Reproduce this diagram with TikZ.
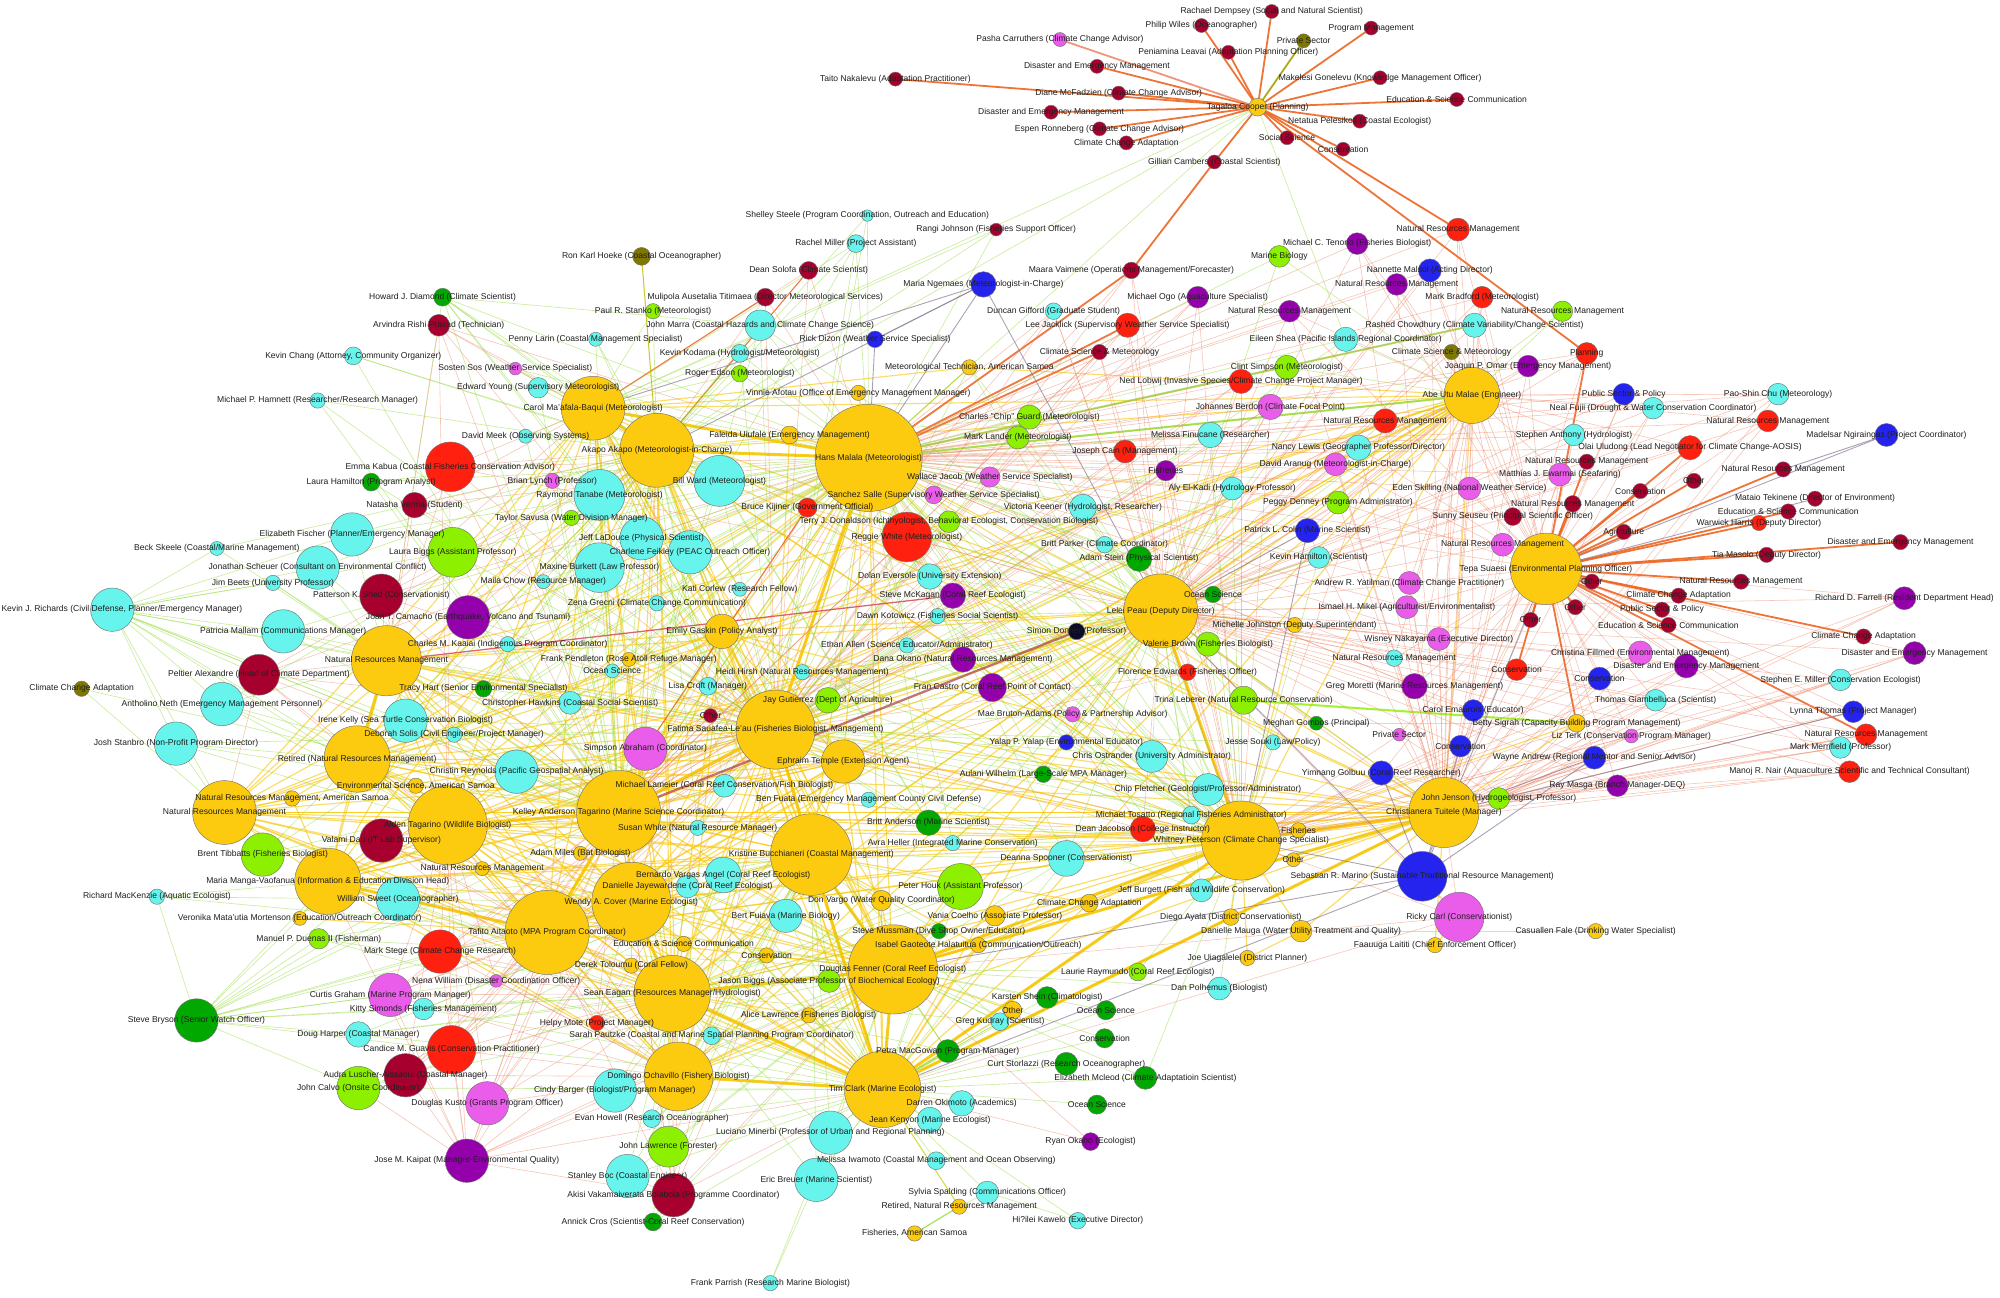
\documentclass[tikz,border=0pt]{standalone}
\usepackage{fontspec}
\setmainfont{Liberation Sans}
\pgfdeclarelayer{bg}\pgfdeclarelayer{edges}
\pgfsetlayers{bg,edges,main}
\definecolor{cY}{HTML}{FCCB10}
\definecolor{cC}{HTML}{66F4EC}
\definecolor{cK}{HTML}{A8002E}
\definecolor{cR}{HTML}{FF2010}
\definecolor{cL}{HTML}{8CF000}
\definecolor{cG}{HTML}{00A800}
\definecolor{cP}{HTML}{9400AC}
\definecolor{cM}{HTML}{EA5CEA}
\definecolor{cB}{HTML}{2424EE}
\definecolor{cO}{HTML}{7E7800}
\definecolor{cN}{HTML}{0C0C28}
\definecolor{eY}{HTML}{F7C600}
\definecolor{eG}{HTML}{96DC3C}
\definecolor{eS}{HTML}{EE8A6C}
\definecolor{eO}{HTML}{EE6420}
\definecolor{eP}{HTML}{8A7A94}
\definecolor{eD}{HTML}{B04848}
\definecolor{eR}{HTML}{D04050}
\tikzset{
 nd/.style={circle, draw=black!55, line width=0.35pt, inner sep=0pt, outer sep=0pt},
 lb/.style={inner sep=0pt, font=\fontsize{6.7}{7}\selectfont, text=black!88},
 ye/.style={draw=eY, line width=0.9pt, opacity=0.6},
 yt/.style={draw=eY, line width=2.4pt, opacity=0.85},
 gE/.style={draw=eG, line width=0.5pt, opacity=0.5},
 gt/.style={draw=eG, line width=1.6pt, opacity=0.8},
 sE/.style={draw=eS, line width=0.45pt, opacity=0.5},
 oE/.style={draw=eO, line width=1.4pt, opacity=0.9},
 pE/.style={draw=eP, line width=0.7pt, opacity=0.7},
}
\newtoks\labtoks
\newcommand\gnode[6]{\node[nd,fill=#5,minimum size=#4pt] (#1) at (#2,#3) {};%
\global\labtoks\expandafter{\the\labtoks\node[lb] (#1-l) at (#2,#3) {#6};}}
\newcommand\gfan[3]{\foreach \u in {#3} {\draw[#1] (#2) -- (\u);}}
\begin{document}
\begin{tikzpicture}[x=1pt,y=-1pt]
\begin{pgfonlayer}{bg}
\path[fill=white] (0,0) rectangle (1568,1017);
\end{pgfonlayer}
\useasboundingbox (0,0) rectangle (1568,1017);
% ---- top star
\gnode{tag}{986}{84}{14}{cY}{Tagaloa Cooper (Planning)}
\gnode{rdem}{997}{9}{11}{cK}{Rachael Dempsey (Social and Natural Scientist)}
\gnode{pwil}{942}{20}{11}{cK}{Philip Wiles (Oceanographer)}
\gnode{pcar}{831}{31}{11}{cM}{Pasha Carruthers (Climate Change Advisor)}
\gnode{prgm}{1075}{22}{11}{cK}{Program Management}
\gnode{psec}{1022}{32}{11}{cO}{Private Sector}
\gnode{plea}{963}{41}{11}{cK}{Peniamina Leavai (Adaptation Planning Officer)}
\gnode{dem1}{860}{52}{11}{cK}{Disaster and Emergency Management}
\gnode{mgon}{1082}{61}{11}{cK}{Makelesi Gonelevu (Knowledge Management Officer)}
\gnode{tnak}{702}{62}{11}{cK}{Taito Nakalevu (Adaptation Practitioner)}
\gnode{dmcf}{877}{73}{11}{cK}{Diane McFadzien (Climate Change Advisor)}
\gnode{esc1}{1142}{78}{11}{cK}{Education \& Science Communication}
\gnode{dem2}{824}{88}{11}{cK}{Disaster and Emergency Management}
\gnode{npel}{1066}{95}{11}{cK}{Netatua Pelesikoti (Coastal Ecologist)}
\gnode{eron}{862}{101}{11}{cK}{Espen Ronneberg (Climate Change Advisor)}
\gnode{socs}{1009}{108}{11}{cK}{Social Science}
\gnode{cca1}{883}{112}{11}{cK}{Climate Change Adaptation}
\gnode{cons1}{1053}{117}{11}{cK}{Conservation}
\gnode{gcam}{952}{127}{11}{cK}{Gillian Cambers (Coastal Scientist)}
% ---- upper left
\gnode{sste}{680}{169}{9}{cC}{Shelley Steele (Program Coordination, Outreach and Education)}
\gnode{rjoh}{781}{180}{10}{cK}{Rangi Johnson (Fisheries Support Officer)}
\gnode{rmil}{671}{191}{14}{cC}{Rachel Miller (Project Assistant)}
\gnode{rkh}{503}{201}{14}{cO}{Ron Karl Hoeke (Coastal Oceanographer)}
\gnode{dsol}{634}{212}{14}{cK}{Dean Solofa (Climate Scientist)}
\gnode{mngm}{771}{223}{20}{cB}{Maria Ngemaes (Meteorologist-in-Charge)}
\gnode{mtit}{600}{233}{14}{cK}{Mulipola Ausetalia Titimaea (Director Meteorological Services)}
\gnode{psta}{512}{244}{12}{cL}{Paul R. Stanko (Meteorologist)}
\gnode{jmar}{596}{255}{24}{cC}{John Marra (Coastal Hazards and Climate Change Science)}
\gnode{plar}{467}{266}{11}{cC}{Penny Larin (Coastal Management Specialist)}
\gnode{rdiz}{686}{266}{13}{cB}{Rick Dizon (Weather Service Specialist)}
\gnode{kkod}{580}{277}{14}{cC}{Kevin Kodama (Hydrologist/Meteorologist)}
\gnode{ssos}{404}{289}{10}{cM}{Sosten Sos (Weather Service Specialist)}
\gnode{redS}{580}{293}{13}{cL}{Roger Edson (Meteorologist)}
\gnode{mtec}{760}{288}{12}{cY}{Meteorological Technician, American Samoa}
\gnode{eyou}{422}{304}{16}{cC}{Edward Young (Supervisory Meteorologist)}
\gnode{vafo}{673}{308}{12}{cY}{Vinnie Afotau (Office of Emergency Management Manager)}
\gnode{carol}{465}{320}{50}{cY}{Carol Ma'afala-Baqui (Meteorologist)}
\gnode{howd}{347}{233}{14}{cG}{Howard J. Diamond (Climate Scientist)}
\gnode{arvp}{344}{255}{17}{cK}{Arvindra Rishi Prasad (Technician)}
\gnode{kcha}{277}{279}{14}{cC}{Kevin Chang (Attorney, Community Organizer)}
\gnode{mham}{249}{314}{12}{cC}{Michael P. Hamnett (Researcher/Research Manager)}
% ---- centre
\gnode{dmee}{412}{342}{11}{cC}{David Meek (Observing Systems)}
\gnode{akapo}{515}{353}{58}{cY}{Akapo Akapo (Meteorologist-in-Charge)}
\gnode{fuiu}{619}{341}{14}{cY}{Faleida Uiufale (Emergency Management)}
\gnode{hans}{681}{359}{84}{cY}{Hans Malala (Meteorologist)}
\gnode{ssal}{732}{388}{14}{cM}{Sanchez Salle (Supervisory Weather Service Specialist)}
\gnode{wjac}{776}{374}{16}{cM}{Wallace Jacob (Weather Service Specialist)}
\gnode{bwar}{564}{377}{40}{cC}{Bill Ward (Meteorologist)}
\gnode{blyn}{433}{377}{12}{cM}{Brian Lynch (Professor)}
\gnode{rtan}{470}{388}{40}{cC}{Raymond Tanabe (Meteorologist)}
\gnode{tsav}{448}{406}{12}{cL}{Taylor Savusa (Water Division Manager)}
\gnode{jlad}{503}{422}{34}{cC}{Jeff LaDouce (Physical Scientist)}
\gnode{cfei}{541}{433}{34}{cC}{Charlene Feikley (PEAC Outreach Officer)}
\gnode{mbur}{470}{445}{39}{cC}{Maxine Burkett (Law Professor)}
\gnode{mcho}{426}{456}{11}{cC}{Maila Chow (Resource Manager)}
\gnode{kcor}{580}{462}{11}{cC}{Kati Corlew (Research Fellow)}
\gnode{zgre}{515}{473}{12}{cC}{Zena Grecni (Climate Change Communication)}
\gnode{bkij}{633}{398}{15}{cR}{Bruce Kijiner (Government Official)}
\gnode{tdon}{744}{409}{17}{cL}{Terry J. Donaldson (Ichthyologist, Behavioral Ecologist, Conservation Biologist)}
\gnode{rwhi}{711}{421}{39}{cR}{Reggie White (Meteorologist)}
\gnode{deve}{729}{452}{20}{cC}{Dolan Eversole (University Extension)}
\gnode{smck}{747}{467}{20}{cP}{Steve McKagan (Coral Reef Ecologist)}
\gnode{dkot}{735}{483}{12}{cC}{Dawn Kotowicz (Fisheries Social Scientist)}
\gnode{egas}{566}{495}{27}{cY}{Emily Gaskin (Policy Analyst)}
\gnode{eall}{711}{506}{12}{cC}{Ethan Allen (Science Educator/Administrator)}
\gnode{fpen}{493}{517}{11}{cY}{Frank Pendleton (Rose Atoll Refuge Manager)}
\gnode{doka}{755}{517}{20}{cP}{Dana Okano (Natural Resources Management)}
\gnode{osc1}{480}{526}{11}{cC}{Ocean Science}
\gnode{hhir}{629}{527}{12}{cC}{Heidi Hirsh (Natural Resources Management)}
\gnode{lcro}{555}{538}{14}{cC}{Lisa Croft (Manager)}
\gnode{fcas}{778}{539}{22}{cP}{Fran Castro (Coral Reef Point of Contact)}
\gnode{chaw}{447}{551}{18}{cC}{Christopher Hawkins (Coastal Social Scientist)}
\gnode{jgut}{649}{549}{20}{cL}{Jay Gutierrez (Dept of Agriculture)}
\gnode{oth1}{557}{561}{11}{cK}{Other}
\gnode{fati}{608}{572}{62}{cY}{Fatima Sauafea-Le'au (Fisheries Biologist, Management)}
\gnode{mbru}{841}{560}{12}{cM}{Mae Bruton-Adams (Policy \& Partnership Advisor)}
\gnode{sabr}{506}{587}{34}{cM}{Simpson Abraham (Coordinator)}
\gnode{etem}{661}{597}{34}{cY}{Ephraim Temple (Extension Agent)}
\gnode{crey}{405}{605}{34}{cC}{Christin Reynolds (Pacific Geospatial Analyst)}
\gnode{mlam}{568}{616}{18}{cC}{Michael Lameier (Coral Reef Conservation/Fish Biologist)}
\gnode{bfua}{681}{627}{12}{cC}{Ben Fuata (Emergency Management County Civil Defense)}
\gnode{kell}{485}{637}{66}{cY}{Kelley Anderson Tagarino (Marine Science Coordinator)}
\gnode{swhi}{547}{649}{12}{cC}{Susan White (Natural Resource Manager)}
\gnode{band}{728}{645}{20}{cG}{Britt Anderson (Marine Scientist)}
\gnode{ahel}{747}{661}{12}{cC}{Avra Heller (Integrated Marine Conservation)}
\gnode{amil}{455}{669}{11}{cY}{Adam Miles (Bat Biologist)}
\gnode{kbuc}{636}{670}{64}{cY}{Kristine Bucchianeri (Coastal Management)}
% ---- left
\gnode{ekab}{353}{366}{39}{cR}{Emma Kabua (Coastal Fisheries Conservation Advisor)}
\gnode{lham}{291}{378}{14}{cG}{Laura Hamilton (Program Analyst)}
\gnode{nver}{325}{396}{20}{cK}{Natasha Verma (Student)}
\gnode{efis}{276}{419}{34}{cC}{Elizabeth Fischer (Planner/Emergency Manager)}
\gnode{lbig}{355}{433}{39}{cL}{Laura Biggs (Assistant Professor)}
\gnode{bske}{170}{430}{11}{cC}{Beck Skeele (Coastal/Marine Management)}
\gnode{jsch}{249}{445}{34}{cC}{Jonathan Scheuer (Consultant on Environmental Conflict)}
\gnode{jbee}{214}{457}{12}{cC}{Jim Beets (University Professor)}
\gnode{pshe}{299}{467}{34}{cK}{Patterson K. Shed (Conservationist)}
\node[nd,fill=cC,minimum size=34pt] (kjr) at (88,478) {};
\global\labtoks\expandafter{\the\labtoks\node[lb,anchor=west] (kjr-l) at (1,478) {Kevin J. Richards (Civil Defense, Planner/Emergency Manager)};}
\gnode{jcam}{367}{484}{34}{cP}{Joan T. Camacho (Earthquake, Volcano and Tsunami)}
\gnode{pmal}{222}{495}{34}{cC}{Patricia Mallam (Communications Manager)}
\gnode{nrmL}{303}{518}{55}{cY}{Natural Resources Management}
\gnode{ckaa}{398}{505}{12}{cC}{Charles M. Kaaiai (Indigenous Program Coordinator)}
\gnode{palx}{203}{529}{32}{cK}{Peltier Alexandre (Head of Climate Department)}
\gnode{cca2}{64}{540}{12}{cO}{Climate Change Adaptation}
\gnode{thar}{379}{540}{13}{cG}{Tracy Hart (Senior Environmental Specialist)}
\gnode{aneth}{174}{552}{34}{cC}{Antholino Neth (Emergency Management Personnel)}
\gnode{ikel}{318}{565}{34}{cC}{Irene Kelly (Sea Turtle Conservation Biologist)}
\gnode{dsoli}{356}{576}{12}{cC}{Deborah Solis (Civil Engineer/Project Manager)}
\gnode{jsta}{138}{583}{34}{cC}{Josh Stanbro (Non-Profit Program Director)}
\gnode{reti}{280}{595}{52}{cY}{Retired (Natural Resources Management)}
\gnode{esas}{326}{616}{12}{cY}{Environmental Science, American Samoa}
\gnode{nrmas}{229}{626}{12}{cY}{Natural Resources Management, American Samoa}
\gnode{nrmLL}{176}{637}{50}{cY}{Natural Resources Management}
\gnode{alden}{351}{647}{62}{cY}{Alden Tagarino (Wildlife Biologist)}
\gnode{vdau}{299}{659}{34}{cK}{Valami Dau (IT Lab Supervisor)}
\gnode{btib}{206}{670}{34}{cL}{Brent Tibbatts (Fisheries Biologist)}
\gnode{mman}{257}{691}{52}{cY}{Maria Manga-Vaofanua (Information \& Education Division Head)}
\gnode{nrm5}{378}{681}{11}{cY}{Natural Resources Management}
% ---- lower left
\gnode{rmac}{123}{703}{12}{cC}{Richard MacKenzie (Aquatic Ecologist)}
\gnode{wswe}{312}{705}{34}{cC}{William Sweet (Oceanographer)}
\gnode{vmor}{235}{720}{11}{cY}{Veronika Mata'utia Mortenson (Education/Outreach Coordinator)}
\gnode{mdue}{250}{736}{16}{cL}{Manuel P. Duenas II (Fisherman)}
\gnode{mste}{345}{746}{34}{cR}{Mark Stege (Climate Change Research)}
\gnode{nwil}{389}{769}{10}{cM}{Nena William (Disaster Coordination Officer)}
\gnode{cgra}{306}{780}{34}{cM}{Curtis Graham (Marine Program Manager)}
\gnode{ksim}{332}{791}{17}{cC}{Kitty Simonds (Fisheries Management)}
\gnode{sbry}{154}{800}{34}{cG}{Steve Bryson (Senior Watch Officer)}
\gnode{dhar}{281}{811}{20}{cC}{Doug Harper (Coastal Manager)}
\gnode{cgua}{354}{823}{38}{cR}{Candice M. Guavis (Conservation Practitioner)}
\gnode{alus}{318}{843}{34}{cK}{Audra Luscher-Aissaoui (Coastal Manager)}
\gnode{jcal}{281}{853}{34}{cL}{John Calvo (Onsite Coordinator)}
\gnode{dkus}{382}{865}{34}{cM}{Douglas Kusto (Grants Program Officer)}
\gnode{jkai}{366}{910}{34}{cP}{Jose M. Kaipat (Manager-Environmental Quality)}
% ---- lower centre
\gnode{bvar}{567}{686}{28}{cC}{Bernardo Vargas Angel (Coral Reef Ecologist)}
\gnode{djay}{539}{695}{18}{cC}{Danielle Jayewardene (Coral Reef Ecologist)}
\gnode{wcov}{495}{707}{62}{cY}{Wendy A. Cover (Marine Ecologist)}
\gnode{tait}{429}{731}{66}{cY}{Tafito Aitaoto (MPA Program Coordinator)}
\gnode{phou}{753}{695}{36}{cL}{Peter Houk (Assistant Professor)}
\gnode{dvar}{691}{706}{16}{cY}{Don Vargo (Water Quality Coordinator)}
\gnode{bfui}{616}{718}{26}{cC}{Bert Fuiava (Marine Biology)}
\gnode{vcoe}{780}{718}{16}{cY}{Vania Coelho (Associate Professor)}
\gnode{smus}{736}{730}{12}{cG}{Steve Mussman (Dive Shop Owner/Educator)}
\gnode{esc2}{536}{740}{12}{cY}{Education \& Science Communication}
\gnode{igao}{767}{741}{12}{cY}{Isabel Gaoteote Halatuitua (Communication/Outreach)}
\gnode{cons2}{601}{749}{12}{cY}{Conservation}
\gnode{dfen}{700}{760}{70}{cY}{Douglas Fenner (Coral Reef Ecologist)}
\gnode{dtol}{495}{757}{12}{cY}{Derek Toloumu (Coral Fellow)}
\gnode{seag}{527}{779}{60}{cY}{Sean Eagan (Resources Manager/Hydrologist)}
\gnode{jbig}{650}{769}{18}{cL}{Jason Biggs (Associate Professor of Biochemical Ecology)}
\gnode{hmot}{468}{802}{12}{cR}{Helpy Mote (Project Manager)}
\gnode{alaw}{634}{796}{12}{cY}{Alice Lawrence (Fisheries Biologist)}
\gnode{gkud}{784}{801}{14}{cC}{Greg Kudray (Scientist)}
\gnode{spau}{558}{812}{14}{cC}{Sarah Pautzke (Coastal and Marine Spatial Planning Program Coordinator)}
\gnode{pmac}{743}{824}{18}{cG}{Petra MacGowan (Program Manager)}
\gnode{doch}{532}{844}{54}{cY}{Domingo Ochavillo (Fishery Biologist)}
\gnode{cbar}{482}{855}{34}{cC}{Cindy Barger (Biologist/Program Manager)}
\gnode{timc}{692}{854}{60}{cY}{Tim Clark (Marine Ecologist)}
\gnode{csto}{836}{834}{18}{cG}{Curt Storlazzi (Research Oceanographer)}
\gnode{doki}{754}{865}{20}{cC}{Darren Okimoto (Academics)}
\gnode{emcl}{898}{845}{18}{cG}{Elizabeth Mcleod (Climate Adaptatioin Scientist)}
\gnode{ehow}{511}{877}{14}{cC}{Evan Howell (Research Oceanographer)}
\gnode{jken}{729}{878}{20}{cC}{Jean Kenyon (Marine Ecologist)}
\gnode{lmin}{651}{888}{34}{cC}{Luciano Minerbi (Professor of Urban and Regional Planning)}
\gnode{jlaw}{524}{899}{32}{cL}{John Lawrence (Forester)}
\gnode{miwa}{734}{910}{14}{cC}{Melissa Iwamoto (Coastal Management and Ocean Observing)}
\gnode{roka}{855}{895}{14}{cP}{Ryan Okano (Ecologist)}
\gnode{sboc}{492}{922}{34}{cC}{Stanley Boc (Coastal Engineer)}
\gnode{ebre}{640}{925}{34}{cC}{Eric Breuer (Marine Scientist)}
\gnode{akis}{528}{937}{34}{cK}{Akisi Vakamaiverata Bolabola (Programme Coordinator)}
\gnode{sspa}{774}{935}{18}{cC}{Sylvia Spalding (Communications Officer)}
\gnode{rnrm}{752}{946}{12}{cY}{Retired, Natural Resources Management}
\gnode{acro}{512}{958}{14}{cG}{Annick Cros (Scientist-Coral Reef Conservation)}
\gnode{fias}{717}{967}{12}{cY}{Fisheries, American Samoa}
\gnode{fpar}{604}{1006}{12}{cC}{Frank Parrish (Research Marine Biologist)}
\gnode{hkaw}{845}{957}{13}{cC}{Hi?ilei Kawelo (Executive Director)}
% ---- lower right
\gnode{smar}{1115}{687}{39}{cB}{Sebastian R. Marino (Sustainable Traditional Resource Management)}
\gnode{jbur}{942}{698}{18}{cC}{Jeff Burgett (Fish and Wildlife Conservation)}
\gnode{cca3}{854}{708}{14}{cY}{Climate Change Adaptation}
\gnode{rcar}{1144}{719}{39}{cM}{Ricky Carl (Conservationist)}
\gnode{daya}{965}{719}{13}{cY}{Diego Ayala (District Conservationist)}
\gnode{dmau}{1020}{730}{17}{cY}{Danielle Mauga (Water Utility Treatment and Quality)}
\gnode{cfal}{1251}{730}{12}{cY}{Casuallen Fale (Drinking Water Specialist)}
\gnode{flai}{1125}{741}{12}{cY}{Faauuga Laititi (Chief Enforcement Officer)}
\gnode{juia}{978}{751}{12}{cY}{Joe Uiagalelei (District Planner)}
\gnode{lray}{892}{762}{14}{cL}{Laurie Raymundo (Coral Reef Ecologist)}
\gnode{dpol}{956}{775}{18}{cC}{Dan Polhemus (Biologist)}
\gnode{kshe}{821}{782}{17}{cG}{Karsten Shein (Climatologist)}
\gnode{osc2}{867}{792}{15}{cG}{Ocean Science}
\gnode{oth2}{794}{792}{14}{cY}{Other}
\gnode{cons3}{866}{814}{15}{cG}{Conservation}
\gnode{osc3}{860}{866}{15}{cG}{Ocean Science}
% ---- right centre
\gnode{mfin}{949}{341}{20}{cC}{Melissa Finucane (Researcher)}
\gnode{mlan}{798}{343}{18}{cL}{Mark Lander (Meteorologist)}
\gnode{jcai}{882}{354}{18}{cR}{Joseph Cain (Management)}
\gnode{nlew}{1065}{351}{20}{cC}{Nancy Lewis (Geographer Professor/Director)}
\gnode{dara}{1047}{364}{18}{cM}{David Aranug (Meteorologist-in-Charge)}
\gnode{fish1}{914}{369}{16}{cP}{Fisheries}
\gnode{aelk}{966}{383}{18}{cC}{Aly El-Kadi (Hydrology Professor)}
\gnode{eski}{1152}{383}{18}{cM}{Eden Skilling (National Weather Service)}
\gnode{pden}{1049}{394}{18}{cL}{Peggy Denney (Program Administrator)}
\gnode{vkee}{849}{398}{21}{cC}{Victoria Keener (Hydrologist, Researcher)}
\gnode{sseu}{1186}{405}{14}{cK}{Sunny Seuseu (Principal Scientific Officer)}
\gnode{pcol}{1025}{416}{19}{cB}{Patrick L. Colin (Marine Scientist)}
\gnode{nrmp}{1178}{427}{18}{cM}{Natural Resources Management}
\gnode{bpar}{866}{427}{13}{cC}{Britt Parker (Climate Coordinator)}
\gnode{aste}{893}{438}{20}{cG}{Adam Stein (Physical Scientist)}
\gnode{kham}{1034}{437}{17}{cC}{Kevin Hamilton (Scientist)}
\gnode{tepa}{1212}{446}{56}{cY}{Tepa Suaesi (Environmental Planning Officer)}
\gnode{ayat}{1105}{457}{18}{cM}{Andrew R. Yatilman (Climate Change Practitioner)}
\gnode{lele}{910}{479}{58}{cY}{Lelei Peau (Deputy Director)}
\gnode{osc4}{951}{466}{13}{cG}{Ocean Science}
\gnode{imik}{1103}{476}{18}{cM}{Ismael H. Mikel (Agriculturist/Environmentalist)}
\gnode{sdon}{844}{495}{13}{cN}{Simon Donner (Professor)}
\gnode{mjoh}{1015}{490}{12}{cY}{Michelle Johnston (Deputy Superintendant)}
\gnode{vbro}{947}{505}{19}{cL}{Valerie Brown (Fisheries Biologist)}
\gnode{wnak}{1128}{501}{18}{cM}{Wisney Nakayama (Executive Director)}
\gnode{nrmc}{1093}{516}{13}{cC}{Natural Resources Management}
\gnode{fedw}{931}{527}{13}{cR}{Florence Edwards (Fisheries Officer)}
\gnode{gmor}{1109}{538}{20}{cP}{Greg Moretti (Marine Resources Management)}
\gnode{tleb}{975}{549}{22}{cL}{Trina Leberer (Natural Resource Conservation)}
\gnode{cema}{1155}{557}{17}{cB}{Carol Emaurois (Educator)}
\gnode{mgom}{1032}{567}{11}{cG}{Meghan Gombos (Principal)}
\gnode{bsig}{1236}{567}{14}{cY}{Betty Sigrah (Capacity Building Program Management)}
\gnode{psec2}{1097}{576}{10}{cM}{Private Sector}
\gnode{yyal}{836}{582}{12}{cB}{Yalap P. Yalap (Environmental Educator)}
\gnode{jsou}{998}{582}{12}{cC}{Jesse Souki (Law/Policy)}
\gnode{cons4}{1145}{585}{17}{cB}{Conservation}
\gnode{cost}{903}{593}{25}{cC}{Chris Ostrander (University Administrator)}
\gnode{awil}{818}{607}{13}{cG}{Aulani Wilhelm (Large-Scale MPA Manager)}
\gnode{ygol}{1083}{606}{19}{cB}{Yimnang Golbuu (Coral Reef Researcher)}
\gnode{cfle}{947}{619}{25}{cC}{Chip Fletcher (Geologist/Professor/Administrator)}
\gnode{chri}{1132}{637}{55}{cY}{Christianera Tuitele (Manager)}
\gnode{jjen}{1175}{626}{17}{cL}{John Jenson (Hydrogeologist, Professor)}
\gnode{mtos}{934}{639}{14}{cC}{Michael Tosatto (Regional Fisheries Administrator)}
\gnode{djac}{896}{650}{20}{cR}{Dean Jacobson (College Instructor)}
\gnode{fish2}{1018}{651}{12}{cY}{Fisheries}
\gnode{whit}{973}{659}{62}{cY}{Whitney Peterson (Climate Change Specialist)}
\gnode{dspo}{836}{673}{28}{cC}{Deanna Spooner (Conservationist)}
\gnode{oth3}{1014}{674}{11}{cY}{Other}
% ---- far right
\gnode{sant}{1234}{341}{17}{cC}{Stephen Anthony (Hydrologist)}
\gnode{mngi}{1479}{341}{18}{cB}{Madelsar Ngiraingas (Project Coordinator)}
\gnode{oulu}{1325}{351}{19}{cR}{Olai Uludong (Lead Negotiator for Climate Change-AOSIS)}
\gnode{nrmk1}{1244}{362}{12}{cK}{Natural Resources Management}
\gnode{nrmk2}{1398}{368}{12}{cK}{Natural Resources Management}
\gnode{mewa}{1223}{372}{18}{cM}{Matthias J. Ewarmai (Seafaring)}
\gnode{oth4}{1328}{377}{12}{cK}{Other}
\gnode{cons5}{1286}{385}{12}{cK}{Conservation}
\gnode{mtek}{1423}{391}{12}{cK}{Mataio Tekinene (Director of Environment)}
\gnode{nrmk3}{1233}{395}{13}{cK}{Natural Resources Management}
\gnode{esc3}{1402}{401}{12}{cK}{Education \& Science Communication}
\gnode{wharr}{1379}{410}{12}{cR}{Warwick Harris (Deputy Director)}
\gnode{agri}{1273}{417}{12}{cK}{Agriculture}
\gnode{dem3}{1490}{425}{12}{cK}{Disaster and Emergency Management}
\gnode{tmas}{1385}{435}{12}{cK}{Tia Masolo (Deputy Director)}
\gnode{oth5}{1248}{456}{12}{cK}{Other}
\gnode{nrmk4}{1365}{456}{12}{cK}{Natural Resources Management}
\gnode{rfar}{1493}{469}{18}{cP}{Richard D. Farrell (Resident Department Head)}
\gnode{cca4}{1316}{467}{12}{cK}{Climate Change Adaptation}
\gnode{oth6}{1235}{476}{12}{cK}{Other}
\gnode{pspk}{1303}{478}{12}{cK}{Public Sector \& Policy}
\gnode{oth7}{1200}{486}{12}{cK}{Other}
\gnode{esc4}{1308}{490}{12}{cK}{Education \& Science Communication}
\gnode{cca5}{1461}{499}{12}{cK}{Climate Change Adaptation}
\gnode{dem4}{1501}{512}{18}{cP}{Disaster and Emergency Management}
\gnode{cfil}{1286}{512}{19}{cM}{Christina Fillmed (Environmental Management)}
\gnode{dem5}{1322}{522}{19}{cP}{Disaster and Emergency Management}
\gnode{cons6}{1189}{525}{17}{cR}{Conservation}
\gnode{cons7}{1254}{532}{18}{cB}{Conservation}
\gnode{smil}{1443}{533}{17}{cC}{Stephen E. Miller (Conservation Ecologist)}
\gnode{tgia}{1298}{549}{17}{cC}{Thomas Giambelluca (Scientist)}
\gnode{ltho}{1453}{558}{17}{cB}{Lynna Thomas (Project Manager)}
\gnode{lter}{1279}{577}{11}{cM}{Liz Terk (Conservation Program Manager)}
\gnode{nrmr}{1463}{576}{17}{cR}{Natural Resources Management}
\gnode{mmer}{1443}{586}{17}{cC}{Mark Merrifield (Professor)}
\gnode{wand}{1250}{594}{18}{cB}{Wayne Andrew (Regional Mentor and Senior Advisor)}
\gnode{mnai}{1450}{605}{17}{cR}{Manoj R. Nair (Aquaculture Scientific and Technical Consultant)}
\gnode{rmas}{1268}{616}{17}{cP}{Ray Masga (Branch Manager-DEQ)}
% ---- upper right
\gnode{nrml}{1225}{244}{16}{cL}{Natural Resources Management}
\gnode{plan}{1244}{277}{17}{cR}{Planning}
\gnode{jomr}{1198}{287}{17}{cP}{Joaquin P. Omar (Emergency Management)}
\gnode{pspb}{1273}{309}{17}{cB}{Public Sector \& Policy}
\gnode{pchu}{1394}{309}{17}{cC}{Pao-Shin Chu (Meteorology)}
\gnode{nfuj}{1296}{320}{17}{cC}{Neal Fujii (Drought \& Water Conservation Coordinator)}
\gnode{nrmr2}{1386}{330}{17}{cR}{Natural Resources Management}
\gnode{nrmr3}{1143}{180}{18}{cR}{Natural Resources Management}
\gnode{mten}{1064}{191}{17}{cP}{Michael C. Tenorio (Fisheries Biologist)}
\gnode{mbio}{1003}{201}{17}{cL}{Marine Biology}
\gnode{nmal}{1121}{212}{18}{cB}{Nannette Malsol (Acting Director)}
\gnode{mvai}{887}{212}{13}{cK}{Maara Vaimene (Operations Management/Forecaster)}
\gnode{nrmp2}{1095}{223}{17}{cP}{Natural Resources Management}
\gnode{mbra}{1162}{233}{17}{cR}{Mark Bradford (Meteorologist)}
\gnode{mogo}{939}{233}{17}{cP}{Michael Ogo (Aquaculture Specialist)}
\gnode{dgif}{826}{244}{13}{cC}{Duncan Gifford (Graduate Student)}
\gnode{nrmp3}{1011}{244}{17}{cP}{Natural Resources Management}
\gnode{ljac}{884}{255}{19}{cR}{Lee Jacklick (Supervisory Weather Service Specialist)}
\gnode{rcho}{1156}{255}{19}{cC}{Rashed Chowdhury (Climate Variability/Change Scientist)}
\gnode{eshe}{1055}{266}{19}{cC}{Eileen Shea (Pacific Islands Regional Coordinator)}
\gnode{csm1}{862}{276}{12}{cK}{Climate Science \& Meteorology}
\gnode{csm2}{1138}{276}{12}{cO}{Climate Science \& Meteorology}
\gnode{csim}{1009}{288}{19}{cL}{Clint Simpson (Meteorologist)}
\gnode{nlob}{973}{299}{19}{cR}{Ned Lobwij (Invasive Species/Climate Change Project Manager)}
\gnode{abe}{1154}{310}{44}{cY}{Abe Utu Malae (Engineer)}
\gnode{jber}{996}{319}{20}{cM}{Johannes Berdon (Climate Focal Point)}
\gnode{nrmr4}{1086}{330}{19}{cR}{Natural Resources Management}
\gnode{cgua2}{807}{327}{19}{cL}{Charles "Chip" Guard (Meteorologist)}
% ---- labels on top
\the\labtoks
% ================= EDGES
\begin{pgfonlayer}{edges}
\foreach \a [count=\i] in {carol,akapo,hans,nrmL,reti,nrmLL,alden,mman,kell,fati,etem,egas,kbuc,wcov,tait,seag,dfen,doch,timc,lele,whit,chri,abe} {
  \foreach \b [count=\j] in {carol,akapo,hans,nrmL,reti,nrmLL,alden,mman,kell,fati,etem,egas,kbuc,wcov,tait,seag,dfen,doch,timc,lele,whit,chri,abe} {
    \ifnum\j>\i \draw[ye] (\a) -- (\b); \fi }}
\foreach \a/\b in {carol/hans,akapo/hans,akapo/carol,timc/dfen,timc/seag,timc/doch,seag/dfen,kell/fati,kell/tait,wcov/tait,whit/chri,whit/lele,hans/fati,kbuc/dfen,alden/kell,nrmL/reti,mman/tait,kbuc/timc,whit/timc,chri/timc,chri/dfen,wcov/seag,fati/kbuc,dfen/whit}
  {\draw[yt] (\a) -- (\b);}
\gfan{ye}{dvar}{timc,dfen,kbuc,fati}
\gfan{ye}{igao}{timc,dfen,whit,kbuc}
\gfan{ye}{vcoe}{dfen,timc,whit}
\gfan{ye}{esc2}{seag,wcov,tait,kbuc}
\gfan{ye}{cons2}{seag,dfen,kbuc,timc}
\gfan{ye}{dtol}{seag,wcov,tait}
\gfan{ye}{alaw}{timc,seag,dfen,doch}
\gfan{ye}{nrm5}{alden,kell,tait}
\gfan{ye}{esas}{alden,reti,kell}
\gfan{ye}{nrmas}{nrmLL,reti,mman}
\gfan{ye}{vmor}{mman,tait}
\gfan{ye}{amil}{kell,alden,wcov}
\gfan{ye}{fpen}{kell,fati,egas}
\gfan{ye}{fuiu}{hans,akapo,fati}
\gfan{ye}{vafo}{hans,carol}
\gfan{ye}{mtec}{hans,abe,carol}
\gfan{ye}{daya}{whit,timc}
\gfan{ye}{dmau}{whit,cfal,chri}
\gfan{ye}{juia}{whit,dmau}
\gfan{ye}{fish2}{whit,chri}
\gfan{ye}{oth3}{whit,chri}
\gfan{ye}{cca3}{whit,timc,dfen,kbuc}
\gfan{ye}{oth2}{timc,dfen}
\gfan{ye}{flai}{chri,rcar}
\gfan{ye}{mjoh}{lele,whit}
\gfan{ye}{rnrm}{timc}
\gfan{ye}{bsig}{whit,chri}
\gfan{oE}{tag}{rdem,pwil,prgm,plea,dem1,mgon,tnak,dmcf,esc1,dem2,npel,eron,socs,cca1,cons1,gcam,nrmr3,plan}
\draw[oE,draw=eS] (tag) -- (pcar);
\draw[oE,draw=cO!70!yellow] (tag) -- (psec);
\gfan{oE}{gcam}{mvai}
\gfan{oE}{mvai}{hans}
\gfan{gE}{tag}{carol,hans,akapo,eshe}
\gfan{oE}{tepa}{oulu,nrmk1,nrmk2,oth4,cons5,nrmk3,esc3,wharr,agri,dem3,tmas,oth5,nrmk4,cca4,oth6,pspk,oth7,esc4,cca5,cons6,bsig,plan,nrmr}
\gfan{pE}{tepa}{mtek,mngi}
\gfan{oE}{ljac}{hans}
\gfan{oE}{csm1}{hans}
\draw[oE,line width=0.8pt] (mtit) -- (carol);
\draw[oE,line width=0.8pt] (dsol) -- (akapo);
\draw[oE,line width=0.9pt] (bkij) -- (sabr);
\gfan{gE}{sbry}{mman,wswe,mdue,mste,cgra,ksim,dhar,cgua,nwil,alden,tait,rmac,kell,wcov,seag,vmor,jcal,nrm5}
\gfan{gE}{kjr}{bske,jsch,jbee,efis,pmal,palx,aneth,jsta,nrmL,reti,ikel,lbig,crey,alden,nrmLL,kell,fati}
\gfan{gE}{howd}{carol,akapo,hans,rtan,bwar,kell,fati,jmar,nrmL}
\gfan{gE}{rmac}{mman,tait,wcov}
\gfan{gE}{cca2}{nrmLL,kell}
\gfan{gE}{jsta}{nrmLL,reti,alden,kell,fati}
\gfan{gE}{aneth}{nrmL,reti,alden,kell,akapo}
\gfan{gE}{pmal}{nrmL,kell,fati,hans}
\gfan{gE}{jsch}{nrmL,akapo,kell}
\gfan{gE}{efis}{nrmL,akapo,hans}
\gfan{gE}{bske}{nrmL,akapo}
\gfan{gE}{jbee}{nrmL,kell}
\gfan{gE}{kcha}{akapo,kell,lele}
\gfan{gE}{mham}{kell,fati,akapo}
\gfan{gE}{rjoh}{carol,akapo,hans}
\gfan{gE}{sste}{hans,akapo,fati}
\gfan{gE}{rmil}{hans,akapo,bwar,fati,carol}
\gfan{gE}{psta}{carol,akapo}
\gfan{gE}{redS}{akapo,hans,carol}
\gfan{gE}{eyou}{akapo,hans,kell}
\gfan{gE}{plar}{kell,akapo,fati}
\gfan{gE}{ssos}{carol,akapo,hans}
\gfan{gE}{kkod}{hans,akapo,carol,fati}
\gfan{gE}{jmar}{hans,akapo,fati,kell,lele}
\gfan{gE}{dmee}{akapo,carol,kell}
\gfan{gt}{hans}{abe,rcho}
\gfan{gE}{mbio}{abe,lele,hans}
\gfan{gE}{csim}{hans,abe,lele}
\gfan{gE}{eshe}{hans,abe,lele,fati}
\gfan{gE}{nrml}{abe,lele}
\gfan{gE}{cgua2}{hans,akapo,lele}
\gfan{gE}{mlan}{hans,lele,fati}
\gfan{gE}{timc}{csto,pmac,doki,jken,lmin,miwa,sspa,ebre,gkud,kshe,osc2,cons3,osc3,emcl,oth2,rnrm,hkaw}
\gfan{gE}{dfen}{kshe,osc2,cons3,lray,dpol,gkud,pmac,emcl}
\gfan{gE}{whit}{lray,dpol,jbur,emcl}
\gfan{gE}{fpar}{ebre,lmin}
\gfan{gE}{sspa}{hkaw,rnrm}
\draw[gt,line width=1pt] (rnrm) -- (fias);
\draw[gE,line width=1pt] (bwar) -- (band);
\draw[gt,draw=cL] (tleb) -- (bsig);
\gfan{gE}{mgom}{bsig,lele}
\gfan{gE}{vbro}{lele,whit,chri}
\foreach \s in {bwar,rtan,jlad,cfei,mbur,mcho,kcor,zgre,lcro,chaw,crey,mlam,swhi,osc1,ikel,dsoli,blyn,tsav,thar,ckaa,lham,lbig,btib}
  {\gfan{gE}{\s}{kell,fati,akapo,hans}}
\foreach \s in {deve,dkot,eall,hhir,jgut,tdon,band,ahel,dspo,cost,cfle,mtos,jbur,aste,bpar,vkee,mfin,aelk,kham,osc4,awil,yyal,jsou,mbru,fcas,doka,wjac,ssal,mtec}
  {\gfan{gE}{\s}{lele,fati,whit,hans}}
\foreach \s in {bvar,djay,bfui,spau,cbar,ehow,lmin,ebre,sboc,phou,jbig,smus,gkud,pmac,jlaw,acro,dhar,ksim,wswe,mdue,jcal,dspo}
  {\gfan{gE}{\s}{timc,seag,dfen,kbuc}}
\gfan{sE}{jkai}{tait,wcov,seag,doch,kell,alden,cgra,cgua,dkus,akis,timc,dfen,cbar,mste,mman,jcal,alus}
\gfan{sE}{akis}{seag,doch,tait,kell,wcov,timc,dfen,jlaw,sboc,kbuc,fati}
\gfan{sE}{palx}{nrmL,reti,alden,kell,fati,hans,akapo,nrmLL}
\gfan{sE}{pshe}{nrmL,fati,kell,akapo,hans,carol,alden}
\gfan{sE}{nver}{akapo,carol,nrmL,fati,hans}
\gfan{sE}{ekab}{akapo,hans,fati,kell,carol,lele,nrmL,alden}
\gfan{sE}{arvp}{carol,akapo,hans,kell,fati,nrmL,alden}
\foreach \s in {vdau,alus,cgua,mste,dkus,cgra,hmot,nwil}
  {\gfan{sE}{\s}{tait,kell,wcov,seag,fati,alden,doch}}
\gfan{sE}{dsol}{carol,hans,fati}
\gfan{sE}{mtit}{akapo,hans,fati}
\gfan{sE}{jcam}{akapo,hans,fati,kell,nrmL}
\foreach \s in {mvai,csm1,ljac,nlob,jcai,fish1,bkij,rwhi,oth1,fedw,djac,nrmr4,jber,dgif,mogo}
  {\gfan{sE}{\s}{hans,lele,fati,kell,whit}}
\foreach \s in {mten,nmal,nrmp2,mbra,nrmp3,nrmr3,rcho,jomr,plan,pspb,nfuj,pchu,nrmr2,sant,oulu,mewa,eski,sseu,nrmp,ayat,imik,wnak,gmor,cema,pcol,dara,pden,nlew,csm2,nrmc}
  {\gfan{sE}{\s}{abe,tepa,lele,chri,hans}}
\foreach \s in {smil,ltho,mmer,nrmr,mnai,rfar,dem4,cfil,dem5,cons7,tgia,lter,wand,rmas,psec2,cons4,ygol}
  {\gfan{sE}{\s}{tepa,chri,whit,lele,jjen}}
\gfan{sE}{rcar}{chri,whit,lele,timc,dfen,smar}
\gfan{sE}{sabr}{kell,fati,akapo}
\gfan{sE}{roka}{timc,dfen}
\gfan{pE}{mngm}{carol,akapo,hans,rdiz,lele}
\gfan{pE}{rdiz}{hans}
\gfan{pE}{smar}{chri,whit,lele,timc,cons4,ygol,wand,tepa,dfen}
\gfan{pE}{mngi}{nrmk2}
\gfan{pE}{wand}{chri}
\gfan{pE}{ltho}{chri}
\gfan{pE}{pcol}{lele,whit}
\draw[line width=1.8pt, draw=eD, opacity=0.75] (sdon) -- (kell);
\draw[line width=1pt, draw=eR, opacity=0.8] (smck) -- (nrmL);
\draw[draw=cO!50!yellow, line width=0.8pt, opacity=0.8] (rkh) -- (akapo);
\end{pgfonlayer}
\end{tikzpicture}
\end{document}
